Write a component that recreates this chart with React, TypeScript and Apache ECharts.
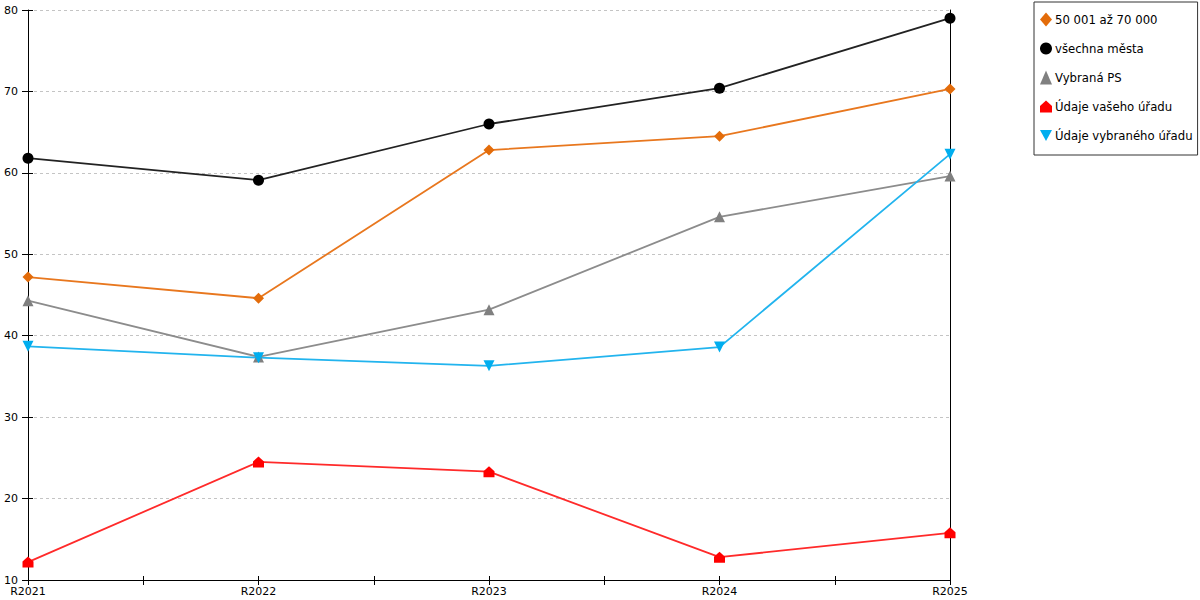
import React, { useEffect, useRef } from "react";
import * as echarts from "echarts";

const categories = ["R2021", "R2022", "R2023", "R2024", "R2025"];
const seriesNames = ["50 001 až 70 000", "všechna města", "Vybraná PS", "Údaje vašeho úřadu", "Údaje vybraného úřadu"];
const orangeValues = [47.2, 44.6, 62.8, 64.5, 70.3];
const blackValues = [61.8, 59.1, 66.0, 70.4, 79.0];
const grayValues = [44.3, 37.4, 43.2, 54.6, 59.6];
const redValues = [12.2, 24.5, 23.3, 12.8, 15.8];
const blueValues = [38.7, 37.3, 36.3, 38.6, 62.3];
const yTicks = [10, 20, 30, 40, 50, 60, 70, 80];

const FONT = "DejaVu Sans";

export default function App() {
  const ref = useRef<HTMLDivElement>(null);
  useEffect(() => {
    document.body.style.margin = "0";
    if (!ref.current) return;
    const chart = echarts.init(ref.current, undefined, { renderer: "svg" });
    const toPts = (vals: number[]) => vals.map((v, i) => [i, v]);
    const defs = [
      { name: seriesNames[0], data: orangeValues, color: "#e36c0a", line: "#e8771e", symbol: "diamond", size: 11 },
      { name: seriesNames[1], data: blackValues, color: "#000000", line: "#222222", symbol: "circle", size: 11 },
      { name: seriesNames[2], data: grayValues, color: "#808080", line: "#8c8c8c", symbol: "triangle", size: 11 },
      { name: seriesNames[3], data: redValues, color: "#ff0000", line: "#ff2a2a", symbol: "path://M5,0L10,4.5L10,10L0,10L0,4.5Z", size: 11 },
      { name: seriesNames[4], data: blueValues, color: "#00aeef", line: "#22b4ee", symbol: "path://M0,0L10,0L5,9Z", size: 11 },
    ];
    const labelFmt = (v: number) => (Number.isInteger(v) ? categories[v] ?? "" : "");
    chart.setOption({
      animation: false,
      textStyle: { fontFamily: FONT },
      grid: { left: 28, right: 250, top: 10, bottom: 20, containLabel: false },
      legend: {
        orient: "vertical",
        left: 1034,
        top: 2,
        padding: [10, 5, 12, 6],
        itemGap: 14,
        itemWidth: 12,
        itemHeight: 14,
        borderColor: "#333",
        borderWidth: 1,
        textStyle: { fontFamily: FONT, fontSize: 11.7, color: "#000", padding: [0, 0, 0, -2], lineHeight: 15 },
        data: defs.map((d) => ({ name: d.name, icon: d.symbol })),
      },
      xAxis: [
        {
          type: "value",
          min: 0,
          max: categories.length - 1,
          interval: 0.5,
          axisLine: { show: true, lineStyle: { color: "#000", width: 1 } },
          axisTick: { show: true, length: 5, lineStyle: { color: "#000" } },
          axisLabel: { formatter: labelFmt, color: "#000", fontSize: 11, fontFamily: FONT, margin: 6, showMinLabel: true, showMaxLabel: true },
          splitLine: { show: false },
        },
        {
          type: "value",
          position: "bottom",
          min: 0,
          max: categories.length - 1,
          interval: 0.5,
          axisLine: { show: false },
          axisTick: { show: true, inside: true, length: 4, lineStyle: { color: "#000" } },
          axisLabel: { show: false },
          splitLine: { show: false },
        },
      ],
      yAxis: [
        {
          type: "value",
          min: yTicks[0],
          max: yTicks[yTicks.length - 1],
          interval: 10,
          axisLine: { show: true, lineStyle: { color: "#000", width: 1 } },
          axisTick: { show: true, length: 6, lineStyle: { color: "#000" } },
          axisLabel: { color: "#000", fontSize: 11, fontFamily: FONT, margin: 10 },
          splitLine: { show: true, lineStyle: { color: "#c4c4c4", type: [3, 3], width: 1 } },
        },
        {
          type: "value",
          position: "left",
          min: yTicks[0],
          max: yTicks[yTicks.length - 1],
          interval: 10,
          axisLine: { show: false },
          axisTick: { show: true, inside: true, length: 5, lineStyle: { color: "#000" } },
          axisLabel: { show: false },
          splitLine: { show: false },
        },
        {
          type: "value",
          position: "right",
          min: yTicks[0],
          max: yTicks[yTicks.length - 1],
          interval: 10,
          axisLine: { show: true, lineStyle: { color: "#000", width: 1 } },
          axisTick: { show: false },
          axisLabel: { show: false },
          splitLine: { show: false },
        },
      ],
      series: defs.map((d) => ({
        type: "line",
        name: d.name,
        data: toPts(d.data),
        symbol: d.symbol,
        symbolSize: d.size,
        showAllSymbol: true,
        itemStyle: { color: d.color },
        lineStyle: { color: d.line, width: 1.8 },
        z: 3,
      })),
    });
    return () => chart.dispose();
  }, []);
  return <div ref={ref} style={{ width: 1200, height: 600 }} />;
}
